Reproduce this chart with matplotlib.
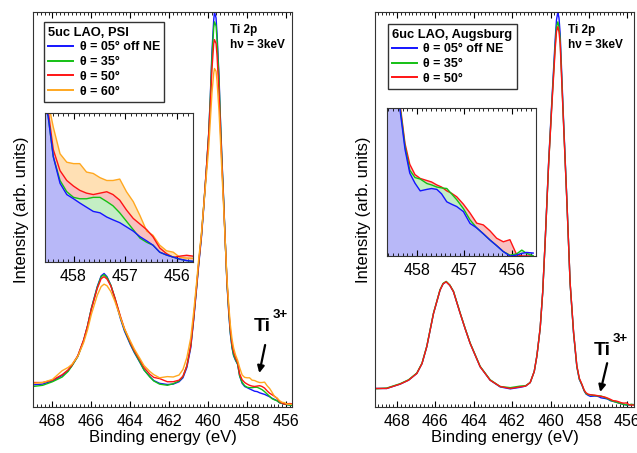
import matplotlib
matplotlib.use('Agg')
import matplotlib.pyplot as plt
from matplotlib.ticker import MultipleLocator

plt.rcParams['font.family'] = ['Liberation Sans', 'DejaVu Sans']

# ---- left panel: 5uc LAO, PSI (binding energy in eV, normalised intensity)
energy_psi = [469.0, 468.5, 468.0, 467.5, 467.2, 467.0, 466.7, 466.4, 466.2, 466.0,
              465.7, 465.5, 465.35, 465.2, 465.0, 464.8, 464.5, 464.3, 464.0, 463.8,
              463.5, 463.3, 463.0, 462.8, 462.5, 462.1, 461.8, 461.5, 461.3, 461.1,
              460.9, 460.75, 460.6, 460.5, 460.35, 460.24, 460.1, 459.98, 459.9, 459.81,
              459.72, 459.68, 459.6, 459.55, 459.45, 459.38, 459.3, 459.21, 459.12, 459.04,
              458.95, 458.87, 458.78, 458.7, 458.6, 458.49, 458.39, 458.26, 458.13, 458.0,
              457.88, 457.75, 457.62, 457.49, 457.36, 457.24, 457.11, 456.98, 456.85, 456.72,
              456.59, 456.47, 456.34, 456.21, 456.08, 455.95, 455.82, 455.7]
psi_05 = [0.056, 0.058, 0.066, 0.080, 0.092, 0.105, 0.128, 0.168, 0.205, 0.250,
          0.305, 0.332, 0.338, 0.330, 0.308, 0.275, 0.222, 0.192, 0.158, 0.138,
          0.112, 0.094, 0.077, 0.067, 0.060, 0.057, 0.058, 0.064, 0.074, 0.100,
          0.150, 0.220, 0.300, 0.355, 0.430, 0.500, 0.600, 0.690, 0.780, 0.900,
          0.980, 1.000, 0.985, 0.945, 0.840, 0.735, 0.630, 0.524, 0.410, 0.313,
          0.240, 0.187, 0.150, 0.130, 0.118, 0.108, 0.079, 0.060, 0.052, 0.049,
          0.046, 0.043, 0.040, 0.039, 0.036, 0.034, 0.032, 0.029, 0.026, 0.022,
          0.019, 0.016, 0.011, 0.009, 0.0075, 0.006, 0.005, 0.0045]
psi_35 = [0.052, 0.055, 0.064, 0.076, 0.090, 0.104, 0.128, 0.168, 0.205, 0.250,
          0.303, 0.330, 0.335, 0.328, 0.308, 0.277, 0.225, 0.195, 0.160, 0.140,
          0.113, 0.094, 0.076, 0.066, 0.058, 0.055, 0.059, 0.066, 0.077, 0.104,
          0.155, 0.225, 0.305, 0.360, 0.435, 0.505, 0.600, 0.690, 0.775, 0.885,
          0.960, 0.975, 0.965, 0.930, 0.830, 0.730, 0.625, 0.522, 0.410, 0.315,
          0.245, 0.190, 0.152, 0.132, 0.120, 0.108, 0.079, 0.062, 0.054, 0.050,
          0.049, 0.049, 0.050, 0.050, 0.047, 0.044, 0.039, 0.033, 0.027, 0.021,
          0.018, 0.016, 0.011, 0.009, 0.0075, 0.006, 0.005, 0.0045]
psi_50 = [0.062, 0.062, 0.068, 0.082, 0.094, 0.106, 0.130, 0.170, 0.205, 0.248,
          0.300, 0.325, 0.330, 0.324, 0.306, 0.277, 0.228, 0.198, 0.163, 0.143,
          0.118, 0.100, 0.083, 0.075, 0.072, 0.064, 0.064, 0.068, 0.078, 0.104,
          0.155, 0.225, 0.305, 0.360, 0.435, 0.505, 0.600, 0.685, 0.760, 0.855,
          0.920, 0.930, 0.920, 0.890, 0.800, 0.710, 0.615, 0.515, 0.410, 0.318,
          0.250, 0.197, 0.160, 0.140, 0.125, 0.112, 0.084, 0.069, 0.062, 0.058,
          0.055, 0.053, 0.052, 0.053, 0.054, 0.052, 0.048, 0.041, 0.035, 0.031,
          0.027, 0.022, 0.014, 0.010, 0.0073, 0.0082, 0.0088, 0.0082]
psi_60 = [0.060, 0.062, 0.070, 0.092, 0.100, 0.108, 0.128, 0.163, 0.195, 0.235,
          0.283, 0.305, 0.311, 0.307, 0.292, 0.268, 0.225, 0.198, 0.167, 0.147,
          0.122, 0.105, 0.090, 0.082, 0.074, 0.077, 0.076, 0.081, 0.095, 0.125,
          0.175, 0.240, 0.315, 0.370, 0.440, 0.505, 0.585, 0.655, 0.720, 0.795,
          0.845, 0.857, 0.850, 0.825, 0.750, 0.680, 0.595, 0.505, 0.410, 0.325,
          0.260, 0.210, 0.172, 0.150, 0.132, 0.118, 0.100, 0.081, 0.075, 0.074,
          0.074, 0.068, 0.067, 0.064, 0.062, 0.062, 0.063, 0.054, 0.047, 0.037,
          0.026, 0.023, 0.016, 0.012, 0.011, 0.0073, 0.0068, 0.0066]

# ---- right panel: 6uc LAO, Augsburg
energy_aug = [469.15, 468.54, 467.84, 467.4, 466.97, 466.7, 466.45, 466.1, 465.76, 465.6,
              465.44, 465.25, 465.06, 464.71, 464.45, 464.19, 463.67, 463.15, 462.63, 462.1,
              461.58, 461.3, 461.06, 460.85, 460.71, 460.54, 460.41, 460.28, 460.1, 459.93,
              459.76, 459.69, 459.62, 459.56, 459.5, 459.33, 459.15, 458.98, 458.8, 458.63,
              458.5, 458.36, 458.25, 458.15, 458.04, 457.93, 457.79, 457.69, 457.58, 457.48,
              457.37, 457.27, 457.16, 457.02, 456.88, 456.74, 456.6, 456.46, 456.32, 456.18,
              456.04, 455.9, 455.79, 455.69, 455.55]
aug_05 = [0.047, 0.047, 0.058, 0.068, 0.085, 0.110, 0.153, 0.237, 0.296, 0.312,
          0.317, 0.308, 0.292, 0.237, 0.198, 0.161, 0.102, 0.068, 0.051, 0.046,
          0.050, 0.053, 0.062, 0.090, 0.130, 0.200, 0.290, 0.420, 0.620, 0.777,
          0.929, 0.980, 1.000, 0.985, 0.946, 0.735, 0.524, 0.313, 0.187, 0.102,
          0.070, 0.055, 0.041, 0.033, 0.0296, 0.027, 0.0275, 0.0278, 0.0275, 0.026,
          0.0233, 0.0225, 0.0217, 0.020, 0.016, 0.0145, 0.0125, 0.0104, 0.0085, 0.0065,
          0.005, 0.0053, 0.0059, 0.0062, 0.006]
aug_35 = [0.046, 0.048, 0.059, 0.069, 0.086, 0.111, 0.154, 0.238, 0.297, 0.313,
          0.318, 0.309, 0.293, 0.238, 0.199, 0.162, 0.103, 0.069, 0.052, 0.049,
          0.053, 0.054, 0.062, 0.090, 0.130, 0.200, 0.290, 0.420, 0.615, 0.770,
          0.915, 0.962, 0.975, 0.962, 0.930, 0.728, 0.522, 0.313, 0.188, 0.103,
          0.071, 0.056, 0.042, 0.034, 0.0315, 0.031, 0.0295, 0.029, 0.0283, 0.028,
          0.0278, 0.026, 0.024, 0.021, 0.0172, 0.0145, 0.0125, 0.0104, 0.0085, 0.0065,
          0.0053, 0.0057, 0.007, 0.0059, 0.005]
aug_50 = [0.047, 0.047, 0.058, 0.068, 0.085, 0.110, 0.153, 0.237, 0.296, 0.312,
          0.317, 0.308, 0.292, 0.237, 0.198, 0.161, 0.102, 0.068, 0.052, 0.047,
          0.051, 0.053, 0.062, 0.090, 0.130, 0.200, 0.290, 0.420, 0.615, 0.765,
          0.905, 0.950, 0.963, 0.950, 0.920, 0.725, 0.522, 0.315, 0.190, 0.105,
          0.073, 0.057, 0.043, 0.036, 0.0325, 0.0312, 0.0305, 0.030, 0.029, 0.0283,
          0.027, 0.0262, 0.025, 0.0225, 0.0195, 0.0161, 0.0155, 0.0135, 0.011, 0.0098,
          0.0105, 0.0055, 0.005, 0.005, 0.005]

labels_psi = ['θ = 05° off NE', 'θ = 35°', 'θ = 50°', 'θ = 60°']
labels_aug = ['θ = 05° off NE', 'θ = 35°', 'θ = 50°']

COLORS = ['#1414ff', '#14c014', '#ff1414', '#ffa820']
FILLS = ['#b8b8f8', '#c4eec4', '#f8c0c0', '#ffe0b4']

fig = plt.figure(figsize=(6.37, 4.53), dpi=100)


def style_main(ax, xlim):
    ax.set_xlim(*xlim)
    ax.set_ylim(0, 1.0)
    ax.xaxis.set_major_locator(MultipleLocator(2))
    ax.xaxis.set_minor_locator(MultipleLocator(0.2))
    ax.tick_params(axis='x', which='both', direction='in', top=True, labelsize=11.5, pad=5)
    ax.tick_params(axis='x', which='major', length=4)
    ax.tick_params(axis='x', which='minor', length=2.5)
    ax.set_yticks([])
    ax.set_xlabel('Binding energy (eV)', fontsize=12, labelpad=1)
    ax.set_ylabel('Intensity (arb. units)', fontsize=12, labelpad=3)
    for sp in ax.spines.values():
        sp.set_color('#333333')


def style_inset(ax, xlim, ylim):
    ax.set_xlim(*xlim)
    ax.set_ylim(*ylim)
    ax.xaxis.set_major_locator(MultipleLocator(1))
    ax.xaxis.set_minor_locator(MultipleLocator(0.1))
    ax.tick_params(axis='x', which='both', direction='in', top=True, labelsize=11.5, pad=5)
    ax.tick_params(axis='x', which='major', length=4)
    ax.tick_params(axis='x', which='minor', length=2.5)
    ax.set_yticks([])
    for sp in ax.spines.values():
        sp.set_color('#333333')


def draw_panel(ax_pos, in_pos, energy, series, labels, title, xlim, in_xlim, in_ylim,
               leg_anchor, note_x, ti_text, ti_arrow):
    ax = fig.add_axes(ax_pos)
    for ys, c, lab in zip(series, COLORS, labels):
        ax.plot(energy, ys, color=c, lw=1.0, label=lab)
    style_main(ax, xlim)

    leg = ax.legend(loc='upper left', bbox_to_anchor=leg_anchor, title=title,
                    frameon=True, fancybox=False, edgecolor='black',
                    handlelength=2.0, handletextpad=0.5, borderpad=0.35,
                    labelspacing=0.22, alignment='left',
                    title_fontproperties={'weight': 'bold', 'size': 9.3},
                    prop={'weight': 'bold', 'size': 9})
    leg.get_frame().set_linewidth(1.0)
    for ln in leg.get_lines():
        ln.set_linewidth(1.4)

    ax.text(note_x, 0.97, 'Ti 2p\nh\u03bd = 3keV', transform=ax.transAxes, fontsize=8.5,
            fontweight='bold', va='top', ha='left', linespacing=1.35)

    # Ti3+ label and arrow
    (tx, ty), (sx, sy) = ti_text
    (x0, y0), (x1, y1) = ti_arrow
    ax.text(tx, ty, 'Ti', fontsize=14, fontweight='bold', ha='center', va='center')
    ax.text(sx, sy, '3+', fontsize=9.5, fontweight='bold', ha='center', va='center')
    ax.annotate('', xy=(x1, y1), xytext=(x0, y0),
                arrowprops=dict(arrowstyle='-|>', color='black', lw=1.6,
                                mutation_scale=10, shrinkA=0, shrinkB=0))

    axi = fig.add_axes(in_pos)
    n = len(series)
    for i in range(n - 1, -1, -1):
        axi.fill_between(energy, in_ylim[0] - 1, series[i], color=FILLS[i], lw=0)
    for i in range(n - 1, -1, -1):
        axi.plot(energy, series[i], color=COLORS[i], lw=1.0)
    style_inset(axi, in_xlim, in_ylim)
    return ax, axi


draw_panel([0.0518, 0.1015, 0.4066, 0.872], [0.0706, 0.4216, 0.2323, 0.3289],
           energy_psi, [psi_05, psi_35, psi_50, psi_60], labels_psi, '5uc LAO, PSI',
           (469.0, 455.7), (458.55, 455.7), (0.004, 0.11), (0.018, 0.99), 0.76,
           ((457.23, 0.203), (456.3, 0.232)), ((457.08, 0.157), (457.38, 0.086)))

draw_panel([0.5887, 0.1015, 0.4066, 0.872], [0.6075, 0.4349, 0.234, 0.3267],
           energy_aug, [aug_05, aug_35, aug_50], labels_aug, '6uc LAO, Augsburg',
           (469.15, 455.65), (458.63, 455.49), (0.005, 0.055), (0.025, 0.985), 0.745,
           ((457.3, 0.144), (456.37, 0.172)), ((457.05, 0.111), (457.41, 0.038)))

fig.savefig('out.png', dpi=100)
